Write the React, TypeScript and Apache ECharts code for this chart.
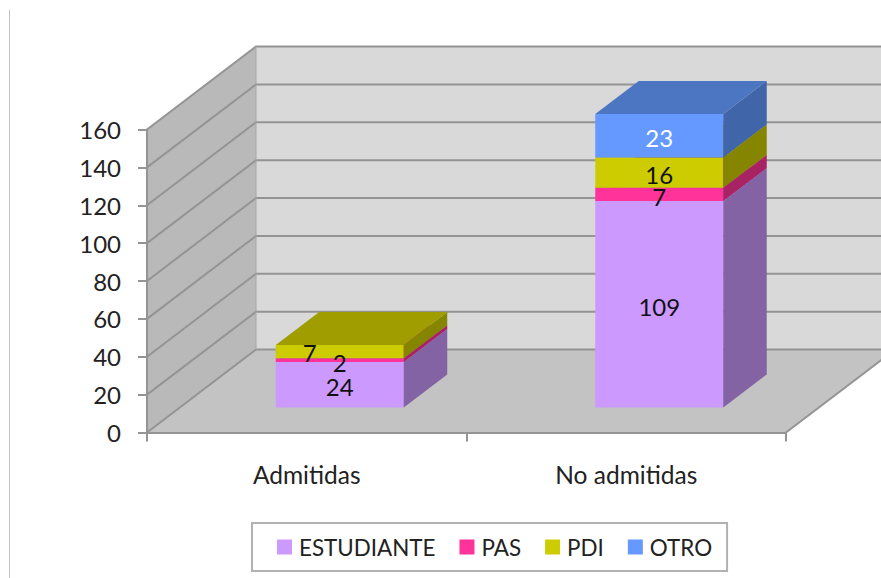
import React, { useEffect, useRef } from "react";
import * as echarts from "echarts";

const categories = ["Admitidas", "No admitidas"];
const seriesNames = ["ESTUDIANTE", "PAS", "PDI", "OTRO"];
const estudiante = [24, 109];
const pas = [2, 7];
const pdi = [7, 16];
const otro = [0, 23];
const yTicks = [0, 20, 40, 60, 80, 100, 120, 140, 160];

const frontColors = ["#CC99FF", "#FF3399", "#CCCC00", "#6699FF"];
const sideColors = ["#8363A4", "#A82364", "#868500", "#4065A8"];
const topColors = ["#A37AD0", "#CC2A7C", "#9F9D00", "#4D76C2"];

const FONT = "Lato, 'Open Sans', sans-serif";
const GRID = { left: 147, top: 129.5, width: 639, height: 303 };
const WALL_DX = 109;
const WALL_DY = -83;
const BAR_DX = 43.5;
const BAR_DY = -33;
const BAR_WIDTH = 128;
const BAR_SHIFT_X = 33;
const BAR_SHIFT_Y = -25;
const LINE = "#949494";

function wallsRenderItem(params: any, api: any) {
  const sys = params.coordSys;
  const y0 = api.coord([0, 0])[1];
  const left = sys.x;
  const right = sys.x + sys.width;
  const children: any[] = [];
  const yTop = api.coord([0, yTicks[yTicks.length - 1]])[1];
  children.push({
    type: "polygon",
    shape: { points: [[left + WALL_DX, yTop + WALL_DY], [right + WALL_DX, yTop + WALL_DY], [right + WALL_DX, y0 + WALL_DY], [left + WALL_DX, y0 + WALL_DY]] },
    style: { fill: "#D9D9D9" },
  });
  children.push({
    type: "polygon",
    shape: { points: [[left, yTop], [left + WALL_DX, yTop + WALL_DY], [left + WALL_DX, y0 + WALL_DY], [left, y0]] },
    style: { fill: "#B9B9B9" },
  });
  children.push({
    type: "polygon",
    shape: { points: [[left, y0], [right, y0], [right + WALL_DX, y0 + WALL_DY], [left + WALL_DX, y0 + WALL_DY]] },
    style: { fill: "#C3C3C3" },
  });
  yTicks.forEach((t) => {
    const y = api.coord([0, t])[1];
    children.push({
      type: "polyline",
      shape: { points: [[left, y], [left + WALL_DX, y + WALL_DY], [right + WALL_DX, y + WALL_DY]] },
      style: { fill: "none", stroke: LINE, lineWidth: 2 },
    });
  });
  children.push({
    type: "line",
    shape: { x1: left + WALL_DX, y1: yTop + WALL_DY, x2: left + WALL_DX, y2: y0 + WALL_DY },
    style: { stroke: "#A6A6A6", lineWidth: 1 },
  });
  children.push({
    type: "line",
    shape: { x1: right, y1: y0, x2: right + WALL_DX, y2: y0 + WALL_DY },
    style: { stroke: LINE, lineWidth: 2 },
  });
  return { type: "group", children };
}

const labelNudge: Record<string, [number, number]> = {
  "PDI-0": [-30, 1],
};

function makeBarRender(seriesIdx: number) {
  return (params: any, api: any) => {
    const cat = api.value(0);
    const base = api.value(1);
    const value = api.value(2);
    if (!value) return { type: "group", children: [] };
    const bottom = api.coord([cat, base]);
    const top = api.coord([cat, base + value]);
    const cx = bottom[0] + BAR_SHIFT_X;
    const xl = cx - BAR_WIDTH / 2;
    const xr = cx + BAR_WIDTH / 2;
    const yb = bottom[1] + BAR_SHIFT_Y;
    const yt = top[1] + BAR_SHIFT_Y;
    return {
      type: "group",
      children: [
        { type: "rect", shape: { x: xl, y: yt, width: BAR_WIDTH, height: yb - yt }, style: { fill: frontColors[seriesIdx] } },
        { type: "polygon", shape: { points: [[xr, yb], [xr + BAR_DX, yb + BAR_DY], [xr + BAR_DX, yt + BAR_DY], [xr, yt]] }, style: { fill: sideColors[seriesIdx] } },
        { type: "polygon", shape: { points: [[xl, yt], [xl + BAR_DX, yt + BAR_DY], [xr + BAR_DX, yt + BAR_DY], [xr, yt]] }, style: { fill: topColors[seriesIdx] } },
      ],
    };
  };
}

function makeLabelRender(seriesIdx: number) {
  return (params: any, api: any) => {
    const cat = api.value(0);
    const base = api.value(1);
    const value = api.value(2);
    if (!value) return { type: "group", children: [] };
    const bottom = api.coord([cat, base]);
    const top = api.coord([cat, base + value]);
    const nudge = labelNudge[seriesNames[seriesIdx] + "-" + cat] || [0, 2];
    return {
      type: "text",
      x: bottom[0] + BAR_SHIFT_X + nudge[0],
      y: (bottom[1] + top[1]) / 2 + BAR_SHIFT_Y + nudge[1],
      style: {
        text: String(value),
        fill: seriesIdx === 3 ? "#FFFFFF" : "#111111",
        font: `24px ${FONT}`,
        align: "center",
        verticalAlign: "middle",
      },
    };
  };
}

export default function App() {
  const ref = useRef<HTMLDivElement>(null);
  useEffect(() => {
    const chart = echarts.init(ref.current!, undefined, { renderer: "svg" });
    const stacks = [estudiante, pas, pdi, otro];
    const running = categories.map(() => 0);
    const barSeries = stacks.map((vals, i) => {
      const data = vals.map((v, c) => {
        const d = [c, running[c], v];
        running[c] += v;
        return d;
      });
      return {
        name: seriesNames[i],
        type: "custom",
        renderItem: makeBarRender(i),
        coordinateSystem: "cartesian2d",
        clip: false,
        silent: true,
        z: 3 + i,
        itemStyle: { color: frontColors[i] },
        encode: { x: 0, y: 1 },
        data,
      };
    });
    const labelSeries = barSeries.map((s, i) => ({
      type: "custom",
      renderItem: makeLabelRender(i),
      coordinateSystem: "cartesian2d",
      clip: false,
      silent: true,
      z: 20,
      encode: { x: 0, y: 1 },
      data: s.data,
    }));
    chart.setOption({
      animation: false,
      backgroundColor: "#FFFFFF",
      grid: { ...GRID, containLabel: false },
      xAxis: {
        type: "category",
        data: categories,
        boundaryGap: true,
        axisLine: { show: true, lineStyle: { color: LINE, width: 2 } },
        axisTick: { show: true, length: 9, lineStyle: { color: LINE, width: 2 } },
        axisLabel: { color: "#222222", fontFamily: FONT, fontSize: 24.5, margin: 29 },
        z: 2,
      },
      yAxis: {
        type: "value",
        min: 0,
        max: 160,
        interval: 20,
        splitLine: { show: false },
        axisLine: { show: true, lineStyle: { color: LINE, width: 2 } },
        axisTick: { show: true, length: 9, lineStyle: { color: LINE, width: 2 } },
        axisLabel: { color: "#222222", fontFamily: FONT, fontSize: 24, margin: 26 },
        z: 2,
      },
      legend: {
        show: true,
        left: 252,
        top: 523,
        orient: "horizontal",
        data: seriesNames,
        icon: "rect",
        itemWidth: 15,
        itemHeight: 15,
        itemGap: 24,
        padding: [13, 15, 13, 25],
        borderColor: "#B2B2B2",
        borderWidth: 2,
        backgroundColor: "#FFFFFF",
        textStyle: { color: "#222222", fontFamily: FONT, fontSize: 22.4, padding: [0, 0, 0, 2] },
        selectedMode: false,
      },
      graphic: [
        { type: "line", shape: { x1: 9.5, y1: 10, x2: 9.5, y2: 578 }, style: { stroke: "#C4C4C4", lineWidth: 1 }, silent: true },
      ],
      series: [
        {
          type: "custom",
          coordinateSystem: "cartesian2d",
          renderItem: wallsRenderItem,
          clip: false,
          silent: true,
          z: 1,
          encode: { x: 0, y: 1 },
          data: [[0, 0]],
        },
        ...barSeries,
        ...labelSeries,
      ],
    });
    return () => chart.dispose();
  }, []);
  return <div ref={ref} style={{ position: "fixed", left: 0, top: 0, width: 881, height: 578 }} />;
}
